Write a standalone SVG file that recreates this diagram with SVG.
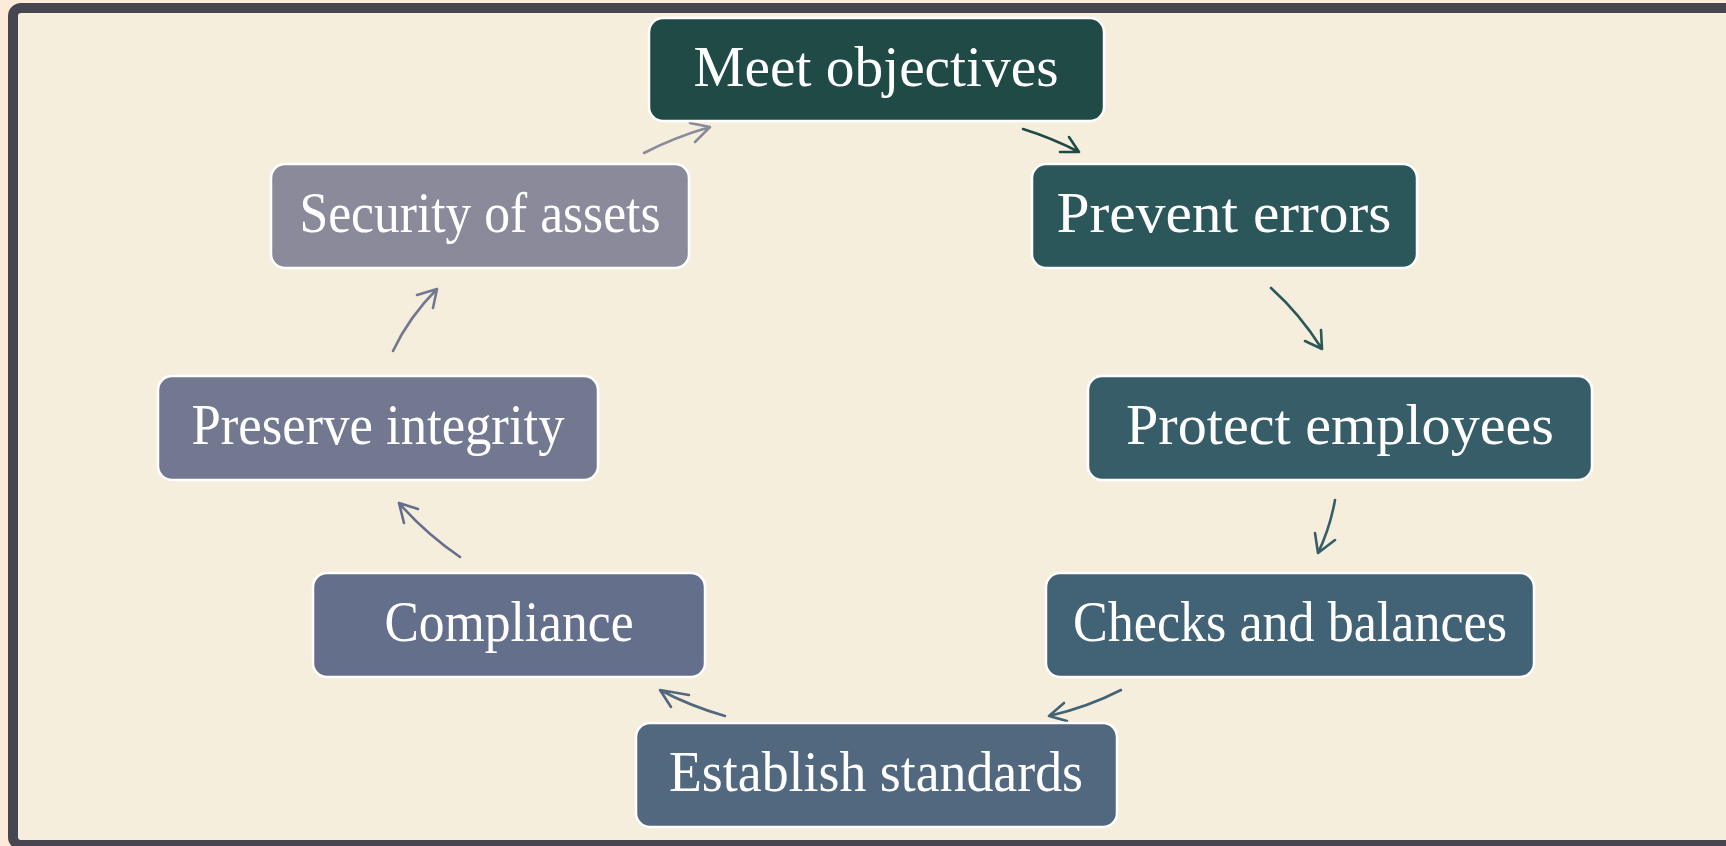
<svg xmlns="http://www.w3.org/2000/svg" width="1726" height="846" viewBox="0 0 1726 846">
<style>
.node rect{stroke:#ffffff;stroke-width:2.5}
.node text{font-family:"Liberation Serif","Times New Roman",serif;font-size:56px;fill:#ffffff;text-anchor:middle}
.conn path{fill:none;stroke-width:2.6;stroke-linecap:round;stroke-linejoin:round}
</style>
<rect x="0" y="0" width="1726" height="846" fill="#fdebd9"/>
<rect x="13" y="8" width="1730" height="837" rx="8" fill="#f5eedd" stroke="#474650" stroke-width="10"/>
<g class="conn" id="connectors">
<path d="M1023,129 Q1052,138 1079,152 M1060,152 L1079,152 L1069,137" stroke="#1f4a46"/>
<path d="M1271,288 Q1300,314 1322,349 M1305,341 L1322,349 L1321,330" stroke="#2b565a"/>
<path d="M1335,500 Q1330,528 1318,553 M1315,533 L1318,553 L1335,540" stroke="#375d69"/>
<path d="M1121,690 Q1088,707 1049,716 M1064,703 L1049,716 L1067,721" stroke="#426275"/>
<path d="M725,716 Q690,706 660,690 M671,707 L660,690 L689,695" stroke="#52687f"/>
<path d="M460,557 Q425,533 399,503 M404,523 L399,503 L418,509" stroke="#646f8b"/>
<path d="M393,351 Q409,317 437,289 M417,295 L437,289 L433,308" stroke="#737891"/>
<path d="M644,153 Q675,137 710,127 M690,123 L710,127 L695,142" stroke="#8b8a9b"/>
</g>
<g class="node" id="meet-objectives"><rect x="649" y="18" width="455" height="103" rx="14" fill="#1f4a46"/><text x="876" y="86" textLength="365" lengthAdjust="spacingAndGlyphs">Meet objectives</text></g>
<g class="node" id="prevent-errors"><rect x="1032" y="164" width="385" height="104" rx="14" fill="#2b565a"/><text x="1224" y="232" textLength="335" lengthAdjust="spacingAndGlyphs">Prevent errors</text></g>
<g class="node" id="protect-employees"><rect x="1088" y="376" width="504" height="104" rx="14" fill="#375d69"/><text x="1340" y="444" textLength="428" lengthAdjust="spacingAndGlyphs">Protect employees</text></g>
<g class="node" id="checks-and-balances"><rect x="1046" y="573" width="488" height="104" rx="14" fill="#426275"/><text x="1290" y="641" textLength="434" lengthAdjust="spacingAndGlyphs">Checks and balances</text></g>
<g class="node" id="establish-standards"><rect x="636" y="723" width="481" height="104" rx="14" fill="#52687f"/><text x="876" y="791" textLength="414" lengthAdjust="spacingAndGlyphs">Establish standards</text></g>
<g class="node" id="compliance"><rect x="313" y="573" width="392" height="104" rx="14" fill="#646f8b"/><text x="509" y="641" textLength="249" lengthAdjust="spacingAndGlyphs">Compliance</text></g>
<g class="node" id="preserve-integrity"><rect x="158" y="376" width="440" height="104" rx="14" fill="#737891"/><text x="378" y="444" textLength="373" lengthAdjust="spacingAndGlyphs">Preserve integrity</text></g>
<g class="node" id="security-of-assets"><rect x="271" y="164" width="418" height="104" rx="14" fill="#8b8a9b"/><text x="480" y="232" textLength="361" lengthAdjust="spacingAndGlyphs">Security of assets</text></g>
</svg>
